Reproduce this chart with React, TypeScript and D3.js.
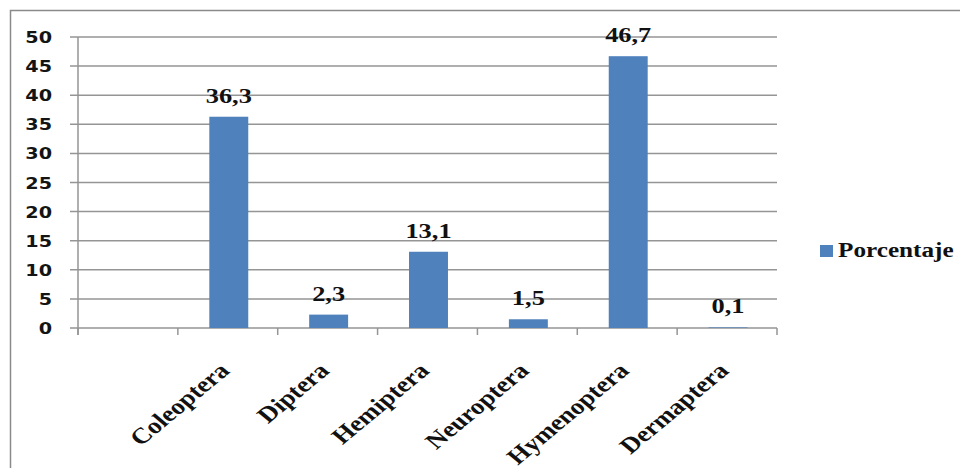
import React from "react";
import * as d3 from "d3";

const categories: string[] = ["", "Coleoptera", "Diptera", "Hemiptera", "Neuroptera", "Hymenoptera", "Dermaptera"];
const values: (number | null)[] = [null, 36.3, 2.3, 13.1, 1.5, 46.7, 0.1];
const valueLabels: string[] = ["", "36,3", "2,3", "13,1", "1,5", "46,7", "0,1"];
const yTicks: number[] = [0, 5, 10, 15, 20, 25, 30, 35, 40, 45, 50];
const seriesName = "Porcentaje";

const W = 960;
const H = 468;
const SX = 1.2;
const serif = "'Liberation Serif', 'Times New Roman', serif";
const sans = "'DejaVu Sans', Verdana, sans-serif";

export default function App() {
  const x = d3.scaleBand<string>().domain(categories.map((c, i) => i + "")).range([79, 778]).paddingInner(0.61).paddingOuter(0.305);
  const y = d3.scaleLinear().domain([0, 50]).range([328, 37]);
  const grid = "#959595";
  const tickXs = categories.map((_, i) => 78 + i * (699 / categories.length)).concat([777]);

  return (
    <svg width={W} height={H} style={{ position: "absolute", left: 0, top: 0, background: "#fff" }}>
      <rect x={10.5} y={10.5} width={W + 10} height={H + 10} fill="#fff" stroke="#8a8a8a" strokeWidth={1.5} />
      {yTicks.map((t) => (
        <g key={t}>
          <line x1={70} x2={777} y1={y(t)} y2={y(t)} stroke={grid} strokeWidth={1.5} />
          <text
            transform={`translate(52,${y(t) + 6}) scale(${SX},1)`}
            textAnchor="end"
            fontFamily={sans}
            fontWeight="bold"
            fontSize={16}
            fill="#141414"
          >
            {t}
          </text>
        </g>
      ))}
      <line x1={78} x2={78} y1={y(50)} y2={335} stroke={grid} strokeWidth={1.5} />
      {tickXs.map((tx, i) => (
        <line key={i} x1={tx} x2={tx} y1={328} y2={335} stroke={grid} strokeWidth={1.5} />
      ))}
      {categories.map((c, i) => {
        const v = values[i];
        const bx = x(i + "")!;
        const bw = x.bandwidth();
        const cx = bx + bw / 2;
        return (
          <g key={i}>
            {v !== null && (
              <rect x={bx} y={y(v)} width={bw} height={y(0) - y(v)} fill="#4F81BD" />
            )}
            {v !== null && (
              <text
                transform={`translate(${cx},${y(v) - 14}) scale(${SX},1)`}
                textAnchor="middle"
                fontFamily={serif}
                fontWeight="bold"
                fontSize={22}
                fill="#111"
              >
                {valueLabels[i]}
              </text>
            )}
            {c && (
              <text
                transform={`translate(${cx + 2},${372}) scale(${SX},1) rotate(-45)`}
                textAnchor="end"
                fontFamily={serif}
                fontWeight="bold"
                fontSize={22.5}
                fill="#111"
              >
                {c}
              </text>
            )}
          </g>
        );
      })}
      <rect x={820} y={245} width={13} height={12} fill="#4F81BD" />
      <text
        transform={`translate(838,257) scale(${SX},1)`}
        fontFamily={serif}
        fontWeight="bold"
        fontSize={21}
        fill="#111"
      >
        {seriesName}
      </text>
    </svg>
  );
}
